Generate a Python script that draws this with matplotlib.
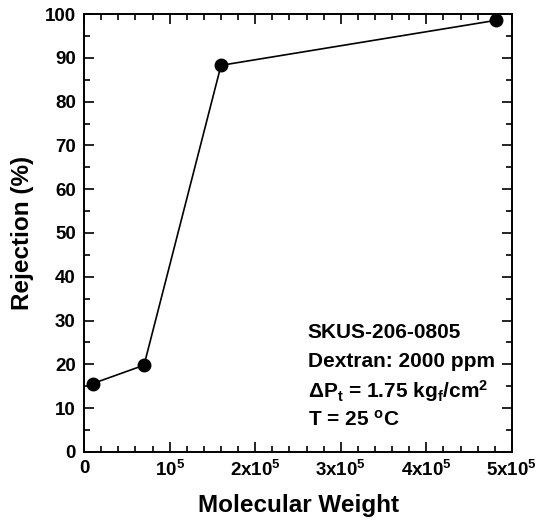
import matplotlib
matplotlib.use('Agg')
import matplotlib.pyplot as plt
from matplotlib.ticker import MultipleLocator

# Dados
peso_molecular = [1.0e4, 7.0e4, 1.6e5, 4.82e5]
rejeicao = [15.6, 19.8, 88.3, 98.6]

x_ticks = [0, 1e5, 2e5, 3e5, 4e5, 5e5]
x_tick_labels = ['0', r'$\mathrm{10^5}$', r'$\mathrm{2x10^5}$', r'$\mathrm{3x10^5}$',
                 r'$\mathrm{4x10^5}$', r'$\mathrm{5x10^5}$']
y_ticks = [0, 10, 20, 30, 40, 50, 60, 70, 80, 90, 100]

legenda = ['SKUS-206-0805',
           'Dextran: 2000 ppm',
           r'$\Delta\mathrm{P_t}$ = 1.75 kg$\mathrm{_f}$/cm$\mathrm{^2}$',
           r'T = 25 $\mathrm{^o}$C']

plt.rcParams['font.family'] = ['Liberation Sans', 'DejaVu Sans']
plt.rcParams['font.weight'] = 'bold'
plt.rcParams['mathtext.fontset'] = 'custom'
plt.rcParams['mathtext.rm'] = 'Liberation Sans:bold'
plt.rcParams['mathtext.it'] = 'Liberation Sans:bold'
plt.rcParams['mathtext.bf'] = 'Liberation Sans:bold'

fig = plt.figure(figsize=(5.36, 5.23), dpi=100)
ax = fig.add_axes([0.157, 0.136, 0.798, 0.837])

ax.plot(peso_molecular, rejeicao, color='black', linewidth=1.2,
        marker='o', markersize=9, markerfacecolor='black')

ax.set_xlim(0, 5e5)
ax.set_ylim(0, 100)
ax.set_xticks(x_ticks)
ax.set_xticklabels(x_tick_labels)
ax.set_yticks(y_ticks)
ax.xaxis.set_minor_locator(MultipleLocator(2e4))
ax.yaxis.set_minor_locator(MultipleLocator(5))

ax.tick_params(which='both', direction='in', top=True, right=True,
               width=1.2, labelsize=13.5)
ax.tick_params(which='major', length=7, pad=6)
ax.tick_params(which='minor', length=4)
for s in ax.spines.values():
    s.set_linewidth(1.4)

ax.set_xlabel('Molecular Weight', fontsize=17.5, fontweight='bold', labelpad=10)
ax.set_ylabel('Rejection (%)', fontsize=17.5, fontweight='bold', labelpad=8)

y0 = 0.272
for i, linha in enumerate(legenda):
    ax.text(0.523, y0 - i * 0.066, linha, transform=ax.transAxes,
            fontsize=15, fontweight='bold', va='center', ha='left')

fig.savefig('out.png', dpi=100)
plt.close(fig)
